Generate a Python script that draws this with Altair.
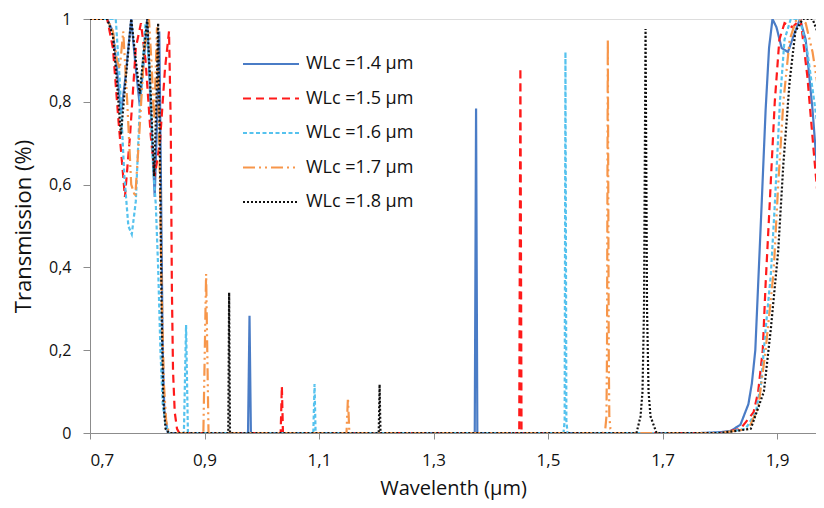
import altair as alt
import pandas as pd

SERIES = ["WLc =1.4 µm", "WLc =1.5 µm", "WLc =1.6 µm", "WLc =1.7 µm", "WLc =1.8 µm"]
COLORS = ["#4A7CC6", "#FF1A1A", "#55C2EE", "#F7964A", "#111111"]
DASHES = [[1, 0], [8, 5], [4, 2.5], [12, 4, 2, 4, 2, 4], [2, 2]]

X_TICKS = [0.7, 0.9, 1.1, 1.3, 1.5, 1.7, 1.9]
Y_TICKS = [0, 0.2, 0.4, 0.6, 0.8, 1.0]

# WLc = 1.4 um
WL_14 = [0.700, 0.730, 0.740, 0.747, 0.754, 0.762, 0.772, 0.780, 0.787, 0.794, 0.800, 0.806,
         0.813, 0.817, 0.821, 0.824, 0.827, 0.830, 0.836, 0.976, 0.9786, 0.981, 1.372, 1.3743,
         1.3765, 1.766, 1.800, 1.819, 1.836, 1.850, 1.856, 1.862, 1.867, 1.873, 1.880, 1.886,
         1.892, 1.899, 1.908, 1.919, 1.929, 1.940, 1.950, 1.962, 1.973, 1.983, 1.990]
T_14 = [1.0, 1.0, 0.97, 0.88, 0.77, 0.86, 1.0, 0.88, 0.79, 0.9, 1.0, 0.78,
        0.57, 0.75, 0.97, 0.6, 0.2, 0.05, 0.0, 0.0, 0.283, 0.0, 0.0, 0.784,
        0.0, 0.0, 0.002, 0.005, 0.02, 0.07, 0.12, 0.2, 0.36, 0.55, 0.78, 0.93,
        1.0, 0.98, 0.93, 0.92, 0.96, 1.0, 0.95, 0.78, 0.58, 0.38, 0.3]

# WLc = 1.5 um
WL_15 = [0.700, 0.730, 0.740, 0.750, 0.761, 0.770, 0.780, 0.789, 0.797, 0.806, 0.813, 0.822,
         0.831, 0.838, 0.841, 0.843, 0.845, 0.848, 0.852, 0.856, 1.033, 1.0351, 1.037, 1.4497,
         1.4517, 1.4537, 1.801, 1.836, 1.859, 1.867, 1.875, 1.880, 1.887, 1.896, 1.904, 1.913,
         1.927, 1.941, 1.953, 1.964, 1.973, 1.983, 1.990]
T_15 = [1.0, 1.0, 0.93, 0.75, 0.57, 0.72, 0.93, 0.99, 0.9, 0.72, 0.62, 0.7,
        0.88, 0.97, 0.75, 0.35, 0.15, 0.05, 0.01, 0.0, 0.0, 0.113, 0.0, 0.0,
        0.882, 0.0, 0.0, 0.01, 0.05, 0.1, 0.2, 0.36, 0.55, 0.8, 0.95, 0.99,
        0.98, 1.0, 0.86, 0.68, 0.54, 0.42, 0.36]

# WLc = 1.6 um
WL_16 = [0.700, 0.735, 0.745, 0.752, 0.760, 0.767, 0.773, 0.780, 0.788, 0.797, 0.804, 0.810,
         0.815, 0.819, 0.823, 0.827, 0.832, 0.838, 0.864, 0.8678, 0.871, 1.090, 1.0922, 1.094,
         1.527, 1.529, 1.5304, 1.532, 1.534, 1.801, 1.845, 1.863, 1.872, 1.880, 1.889, 1.896,
         1.905, 1.913, 1.924, 1.940, 1.953, 1.967, 1.983, 1.990]
T_16 = [1.0, 1.0, 1.0, 0.85, 0.62, 0.5, 0.48, 0.56, 0.82, 0.99, 0.88, 0.65,
        0.55, 0.4, 0.2, 0.07, 0.02, 0.0, 0.0, 0.261, 0.0, 0.0, 0.118, 0.0,
        0.0, 0.03, 0.92, 0.03, 0.0, 0.0, 0.01, 0.05, 0.12, 0.25, 0.38, 0.55,
        0.8, 0.95, 1.0, 1.0, 0.92, 0.78, 0.62, 0.56]

# WLc = 1.7 um
WL_17 = [0.700, 0.730, 0.740, 0.747, 0.752, 0.758, 0.765, 0.772, 0.779, 0.786, 0.795, 0.803,
         0.808, 0.812, 0.817, 0.821, 0.825, 0.829, 0.833, 0.838, 0.898, 0.9028, 0.907, 1.148,
         1.1505, 1.153, 1.596, 1.600, 1.602, 1.603, 1.6044, 1.606, 1.607, 1.609, 1.613, 1.801,
         1.850, 1.867, 1.880, 1.894, 1.902, 1.911, 1.922, 1.934, 1.950, 1.962, 1.973, 1.983,
         1.990]
T_17 = [1.0, 1.0, 0.97, 0.9, 0.88, 0.97, 0.8, 0.6, 0.57, 0.72, 0.93, 1.0,
        0.88, 0.75, 0.98, 0.7, 0.35, 0.12, 0.03, 0.0, 0.0, 0.384, 0.0, 0.0,
        0.085, 0.0, 0.0, 0.01, 0.04, 0.2, 0.952, 0.2, 0.04, 0.01, 0.0, 0.0,
        0.01, 0.06, 0.2, 0.39, 0.6, 0.8, 0.95, 1.0, 0.99, 0.92, 0.82, 0.7,
        0.64]

# WLc = 1.8 um
WL_18 = [0.700, 0.730, 0.740, 0.747, 0.754, 0.762, 0.772, 0.780, 0.787, 0.794, 0.800, 0.806,
         0.812, 0.816, 0.819, 0.822, 0.825, 0.828, 0.832, 0.838, 0.9415, 0.943, 0.9445, 1.2043,
         1.2058, 1.2073, 1.6545, 1.6615, 1.665, 1.6676, 1.6703, 1.6729, 1.6755, 1.679, 1.6895,
         1.801, 1.854, 1.877, 1.889, 1.902, 1.911, 1.922, 1.932, 1.945, 1.962, 1.973, 1.983,
         1.990]
T_18 = [1.0, 1.0, 0.96, 0.85, 0.72, 0.85, 1.0, 0.9, 0.82, 0.92, 1.0, 0.82,
        0.62, 0.8, 0.99, 0.7, 0.3, 0.08, 0.01, 0.0, 0.0, 0.339, 0.0, 0.0,
        0.117, 0.0, 0.0, 0.04, 0.1, 0.3, 0.976, 0.3, 0.1, 0.04, 0.0,
        0.0, 0.01, 0.1, 0.25, 0.44, 0.65, 0.85, 0.97, 1.0, 1.0, 0.96, 0.88,
        0.84]

WLS = [WL_14, WL_15, WL_16, WL_17, WL_18]
TS = [T_14, T_15, T_16, T_17, T_18]

rows = []
for name, wl, t in zip(SERIES, WLS, TS):
    for i, (a, b) in enumerate(zip(wl, t)):
        rows.append({"series": name, "wl": a, "t": b, "i": i})
df = pd.DataFrame(rows)

FONT = "Open Sans"
AXIS_GRAY = "#8c8c8c"

legend_kw = dict(
    title=None, orient="none", legendX=152, legendY=37,
    symbolType="stroke", symbolSize=3136, symbolStrokeWidth=2,
    labelFont=FONT, labelFontSize=18, labelColor="#111111",
    labelOffset=6, clipHeight=16, rowPadding=16.5,
)

chart = alt.Chart(df).mark_line(clip=True, strokeWidth=2.2).encode(
    x=alt.X("wl:Q",
            scale=alt.Scale(domain=[0.7, 1.968], nice=False, zero=False),
            axis=alt.Axis(values=X_TICKS, title="Wavelenth (µm)", grid=False,
                          labelExpr="replace(format(datum.value, '.1f'), '.', ',')",
                          labelFont=FONT, labelFontSize=17, labelColor="#111111",
                          labelPadding=13, tickSize=6, tickColor=AXIS_GRAY,
                          domainColor=AXIS_GRAY, titleFont=FONT, titleFontSize=20,
                          titleFontWeight="normal", titleColor="#111111", titlePadding=10)),
    y=alt.Y("t:Q",
            scale=alt.Scale(domain=[0, 1], nice=False),
            axis=alt.Axis(values=Y_TICKS, title="Transmission (%)", grid=False,
                          labelExpr="datum.value == 0 ? '0' : datum.value == 1 ? '1' : replace(format(datum.value, '.1f'), '.', ',')",
                          labelFont=FONT, labelFontSize=16, labelColor="#111111",
                          labelPadding=12, tickSize=7, tickColor=AXIS_GRAY,
                          domainColor=AXIS_GRAY, titleFont=FONT, titleFontSize=22,
                          titleFontWeight="normal", titleColor="#111111", titlePadding=13)),
    color=alt.Color("series:N", scale=alt.Scale(domain=SERIES, range=COLORS),
                    legend=alt.Legend(**legend_kw)),
    strokeDash=alt.StrokeDash("series:N", scale=alt.Scale(domain=SERIES, range=DASHES),
                              legend=alt.Legend(**legend_kw)),
    order=alt.Order("i:Q"),
).properties(
    width=726, height=414,
    autosize=alt.AutoSizeParams(type="none"),
    padding={"left": 82, "top": 11, "right": 0, "bottom": 67},
).configure_view(stroke=None).configure(background="white")

chart.save("out.html", embed_options={"renderer": "svg", "actions": False})
